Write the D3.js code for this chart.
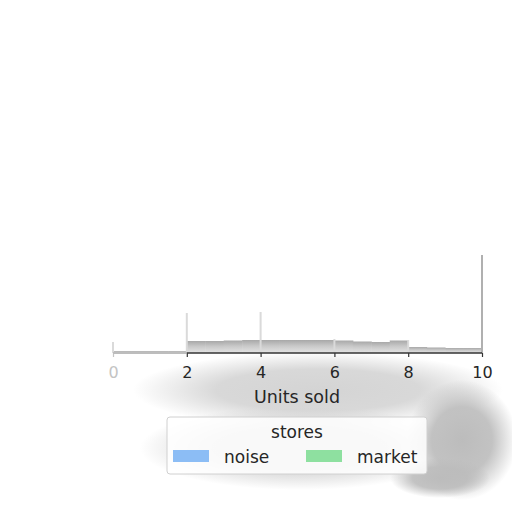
<!DOCTYPE html>
<html>
<head>
<meta charset="utf-8">
<script src="https://cdn.jsdelivr.net/npm/d3@7"></script>
<style>
  body { margin: 0; background: #fff; }
  svg { font-family: "DejaVu Sans", sans-serif; }
</style>
</head>
<body>
<svg id="chart" width="512" height="512"></svg>
<script>
// binned counts of units sold (bin width 0.5)
var binStarts = [0, 0.5, 1, 1.5, 2, 2.5, 3, 3.5, 4, 4.5, 5, 5.5, 6, 6.5, 7, 7.5, 8, 8.5, 9, 9.5];
var binCounts = [2, 2, 2, 2, 12, 12, 12.5, 13, 13, 13, 13, 13, 12.5, 11.5, 11, 12.5, 6, 5.5, 5, 5];
var binWidth = 0.5;

// narrow spikes at whole values
var spikeUnits  = [0, 2, 4, 6, 8, 10];
var spikeCounts = [11, 40, 41, 14, 13, 98];

var xTicks = [0, 2, 4, 6, 8, 10];
var storeNames  = ["noise", "market"];
var storeColors = ["#8cbdf5", "#8ee0a0"];

var svg = d3.select("#chart");

var x = d3.scaleLinear().domain([0, 10]).range([113, 482]);
var y = d3.scaleLinear().domain([0, 100]).range([353, 253]);

var defs = svg.append("defs");

function softGradient(id, color) {
    var g = defs.append("radialGradient").attr("id", id);
    g.append("stop").attr("offset", "0%").attr("stop-color", color).attr("stop-opacity", 1);
    g.append("stop").attr("offset", "55%").attr("stop-color", color).attr("stop-opacity", 0.9);
    g.append("stop").attr("offset", "100%").attr("stop-color", color).attr("stop-opacity", 0);
}
softGradient("smudge-light", "#d4d4d4");
softGradient("smudge-dark", "#bcbcbc");

var grad = defs.append("linearGradient").attr("id", "histfill")
    .attr("x1", 0).attr("y1", 0).attr("x2", 0).attr("y2", 1);
grad.append("stop").attr("offset", "0%").attr("stop-color", "#a8a8a8");
grad.append("stop").attr("offset", "45%").attr("stop-color", "#c8c8c8");
grad.append("stop").attr("offset", "100%").attr("stop-color", "#e4e4e4");

/* soft gray smudge behind the lower part */
var smudge = svg.append("g");
smudge.append("ellipse").attr("cx", 318).attr("cy", 390).attr("rx", 185).attr("ry", 38)
    .style("fill", "url(#smudge-light)");
smudge.append("ellipse").attr("cx", 300).attr("cy", 448).attr("rx", 160).attr("ry", 42)
    .style("fill", "url(#smudge-light)");
smudge.append("ellipse").attr("cx", 462).attr("cy", 440).attr("rx", 55).attr("ry", 60)
    .style("fill", "url(#smudge-dark)");
smudge.append("ellipse").attr("cx", 440).attr("cy", 478).attr("rx", 50).attr("ry", 20)
    .style("fill", "url(#smudge-dark)");

/* histogram bins */
svg.append("g").selectAll("rect.bin")
    .data(binStarts)
    .enter().append("rect")
    .attr("class", "bin")
    .attr("x", function(d) { return x(d); })
    .attr("width", function(d) { return x(d + binWidth) - x(d) + 0.5; })
    .attr("y", function(d, i) { return y(binCounts[i]); })
    .attr("height", function(d, i) { return y(0) - y(binCounts[i]); })
    .style("fill", "url(#histfill)");

/* spikes */
svg.append("g").selectAll("rect.spike")
    .data(spikeUnits)
    .enter().append("rect")
    .attr("class", "spike")
    .attr("x", function(d) { return x(d) - 1; })
    .attr("width", 2)
    .attr("y", function(d, i) { return y(spikeCounts[i]); })
    .attr("height", function(d, i) { return y(0) - y(spikeCounts[i]); })
    .style("fill", function(d) { return d === 10 ? "#b0b0b0" : "#dadada"; });

/* x axis */
var xAxis = svg.append("g")
    .attr("transform", `translate(0, ${y(0)})`)
    .call(d3.axisBottom(x).tickValues(xTicks).tickSize(4).tickPadding(10));

xAxis.select(".domain").remove();
xAxis.selectAll(".tick line").style("stroke", "#333").style("stroke-width", 1.2);
xAxis.selectAll(".tick text")
    .style("font-size", "16px")
    .style("font-family", "DejaVu Sans")
    .style("fill", "#262626");
xAxis.selectAll(".tick").filter(function(d) { return d === 0; })
    .select("text").style("fill", "#c4c4c4");
xAxis.selectAll(".tick").filter(function(d) { return d === 0; })
    .select("line").style("stroke", "#c4c4c4");

svg.append("line")
    .attr("x1", x(0)).attr("x2", x(2))
    .attr("y1", y(0)).attr("y2", y(0))
    .style("stroke", "#bdbdbd").style("stroke-width", 2);
svg.append("line")
    .attr("x1", x(2)).attr("x2", x(10))
    .attr("y1", y(0)).attr("y2", y(0))
    .style("stroke", "#333").style("stroke-width", 1.3);

svg.append("text")
    .attr("x", x(5) - 0.5)
    .attr("y", 403)
    .style("font-size", "17.5px")
    .style("text-anchor", "middle")
    .style("fill", "#262626")
    .text("Units sold");

/* legend */
var legend = svg.append("g");
legend.append("rect")
    .attr("x", 167).attr("y", 417).attr("width", 260).attr("height", 57)
    .attr("rx", 3)
    .style("fill", "rgba(255,255,255,0.85)")
    .style("stroke", "#d0d0d0");

legend.append("text")
    .attr("x", 297).attr("y", 438)
    .style("font-size", "17px")
    .style("text-anchor", "middle")
    .style("fill", "#262626")
    .text("stores");

var entryX = [173, 306];
for (let i = 0; i < storeNames.length; i++) {
    legend.append("rect")
        .attr("x", entryX[i]).attr("y", 450)
        .attr("width", 36).attr("height", 12)
        .style("fill", storeColors[i]);
    legend.append("text")
        .attr("x", entryX[i] + 51).attr("y", 463)
        .style("font-size", "17px")
        .style("fill", "#262626")
        .text(storeNames[i]);
}
</script>
</body>
</html>
